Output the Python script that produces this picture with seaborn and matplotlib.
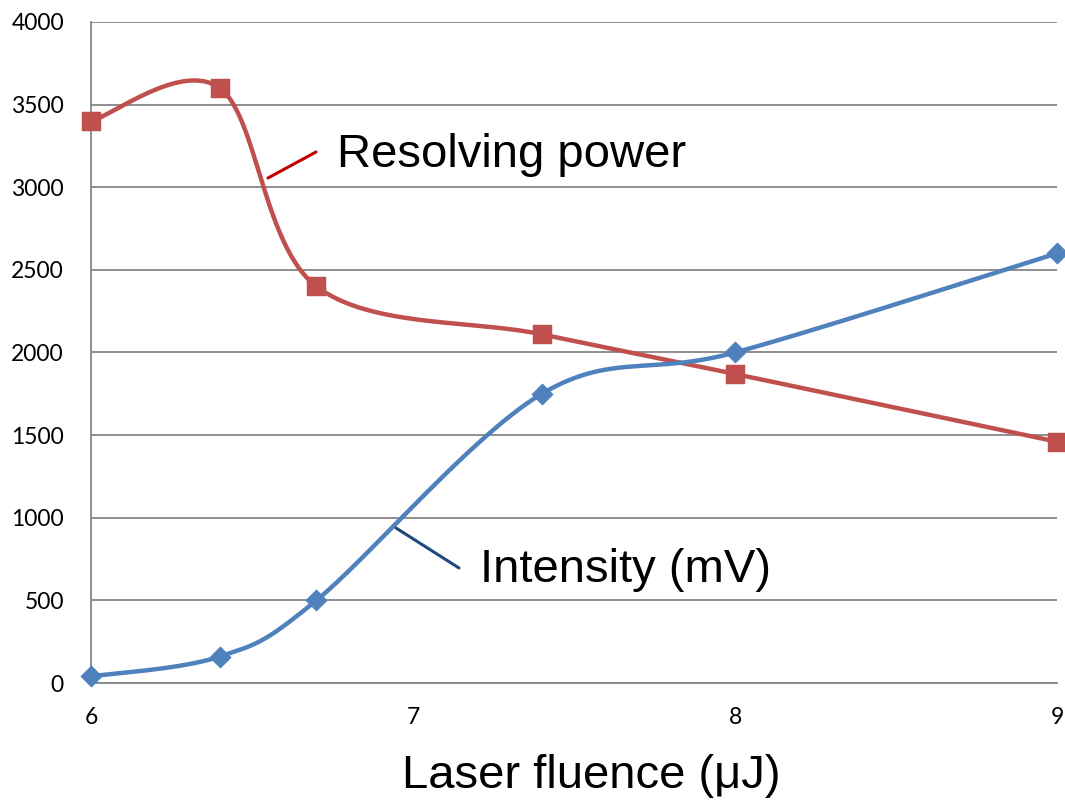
import numpy as np
import pandas as pd
import matplotlib
matplotlib.use('Agg')
import matplotlib.pyplot as plt
import seaborn as sns

# data
fluence = [6, 6.4, 6.7, 7.4, 8, 9]
resolving_power = [3400, 3600, 2400, 2110, 1870, 1460]
intensity = [40, 160, 500, 1750, 2000, 2600]

y_ticks = [0, 500, 1000, 1500, 2000, 2500, 3000, 3500, 4000]
x_ticks = [6, 7, 8, 9]


def smooth(xs, ys, n=60):
    # Excel-like smoothed line (Catmull-Rom through the points as Bezier segments)
    p = np.column_stack([xs, ys]).astype(float)
    p = np.vstack([p[0], p, p[-1]])
    out = []
    for i in range(1, len(p) - 2):
        p0, p1, p2, p3 = p[i - 1], p[i], p[i + 1], p[i + 2]
        c1 = p1 + (p2 - p0) / 6
        c2 = p2 - (p3 - p1) / 6
        t = np.linspace(0, 1, n)[:, None]
        seg = ((1 - t) ** 3) * p1 + 3 * ((1 - t) ** 2) * t * c1 + 3 * (1 - t) * t ** 2 * c2 + t ** 3 * p2
        out.append(seg if i == 1 else seg[1:])
    seg = np.vstack(out)
    return pd.DataFrame({'x': seg[:, 0], 'y': seg[:, 1]})


sns.set_style('white')
plt.rcParams['font.family'] = ['Liberation Sans', 'DejaVu Sans']
plt.rcParams['text.color'] = 'black'

red = '#C0504D'
blue = '#4F81BD'
grey = '#868686'

fig = plt.figure(figsize=(10.65, 8.06), dpi=100)
ax = fig.add_axes([91 / 1065, 1 - 683 / 806, (1057 - 91) / 1065, (683 - 22) / 806])

red_curve = smooth(fluence, resolving_power)
blue_curve = smooth(fluence, intensity)
sns.lineplot(data=red_curve, x='x', y='y', sort=False, estimator=None, color=red, lw=3.2, ax=ax, zorder=3)
sns.lineplot(data=blue_curve, x='x', y='y', sort=False, estimator=None, color=blue, lw=3.2, ax=ax, zorder=3)

pts = pd.DataFrame({'f': fluence, 'rp': resolving_power, 'it': intensity})
sns.scatterplot(data=pts, x='f', y='rp', marker='s', s=170, color=red, edgecolor=red, ax=ax, zorder=4, clip_on=False)
sns.scatterplot(data=pts, x='f', y='it', marker='D', s=110, color=blue, edgecolor=blue, ax=ax, zorder=4, clip_on=False)

ax.set_xlim(6, 9)
ax.set_ylim(0, 4000)
ax.set_xticks(x_ticks)
ax.set_yticks(y_ticks)
ax.set_xlabel('')
ax.set_ylabel('')
ax.yaxis.grid(True, color=grey, lw=1.3)
ax.xaxis.grid(False)
for s in ['top', 'right']:
    ax.spines[s].set_visible(False)
for s in ['left', 'bottom']:
    ax.spines[s].set_color(grey)
    ax.spines[s].set_linewidth(1.3)
ax.tick_params(axis='both', direction='out', length=6.5, width=1.3, color=grey,
               labelsize=16.5, labelcolor='black')
ax.tick_params(axis='x', pad=11)
ax.tick_params(axis='y', pad=13)
for lab in ax.get_xticklabels() + ax.get_yticklabels():
    lab.set_family(['Lato', 'DejaVu Sans'])

# series labels with leader lines
fig.add_artist(plt.Line2D([268 / 1065, 316 / 1065], [1 - 178 / 806, 1 - 152 / 806], color='#C00000', lw=2.2))
fig.text(337 / 1065, 1 - 155 / 806, 'Resolving power', fontsize=34, va='center', ha='left')
fig.add_artist(plt.Line2D([396 / 1065, 459 / 1065], [1 - 528 / 806, 1 - 568 / 806], color='#1F497D', lw=2.2))
fig.text(480 / 1065, 1 - 570 / 806, 'Intensity (mV)', fontsize=34, va='center', ha='left')

fig.text(591 / 1065, 1 - 776 / 806, 'Laser fluence (μJ)', fontsize=34, va='center', ha='center')

fig.savefig('out.png', dpi=100)
